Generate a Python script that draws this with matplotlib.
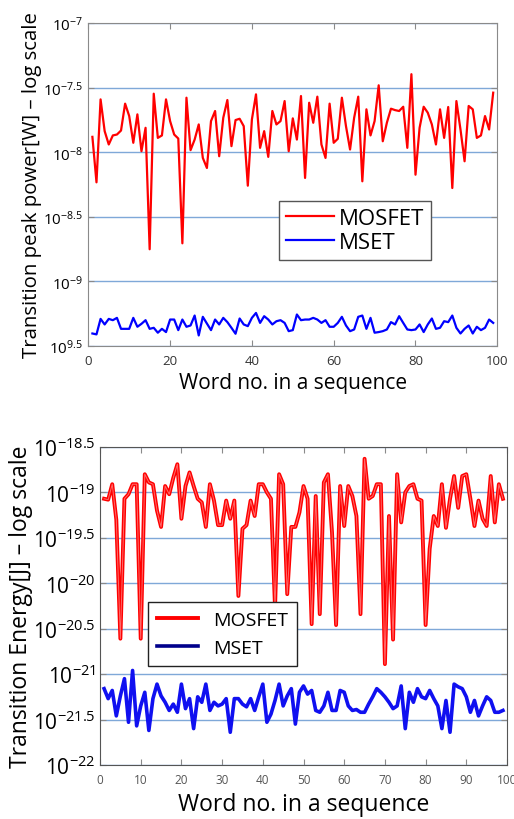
import numpy as np
import matplotlib
matplotlib.use("Agg")
import matplotlib.pyplot as plt

plt.rcParams['font.family'] = ['Open Sans', 'DejaVu Sans']
plt.rcParams['mathtext.fontset'] = 'custom'
plt.rcParams['mathtext.rm'] = 'Open Sans'
plt.rcParams['mathtext.it'] = 'Open Sans:italic'
plt.rcParams['mathtext.bf'] = 'Open Sans:bold'

# ---------------- data (log10 exponents) ----------------
word_no = list(range(1, 100))

power_mosfet_exp = [
    -7.881, -8.233, -7.591, -7.837, -7.940, -7.870, -7.863, -7.832, -7.624, -7.720,
    -7.927, -7.707, -7.992, -7.811, -8.751, -7.547, -7.889, -7.870, -7.591, -7.759,
    -7.863, -7.894, -8.705, -7.578, -7.984, -7.902, -7.785, -8.044, -8.122, -7.759,
    -7.681, -8.031, -7.733, -7.596, -7.953, -7.751, -7.741, -7.798, -8.259, -7.746,
    -7.552, -7.966, -7.837, -8.036, -7.681, -7.785, -7.759, -7.604, -7.992, -7.738,
    -7.902, -7.565, -8.199, -7.617, -7.772, -7.570, -7.940, -8.044, -7.624, -7.927,
    -7.896, -7.578, -7.798, -7.979, -7.733, -7.570, -8.225, -7.668, -7.870, -7.759,
    -7.482, -7.915, -7.772, -7.663, -7.674, -7.681, -7.648, -7.966, -7.396, -8.174,
    -7.811, -7.648, -7.694, -7.785, -7.940, -7.668, -7.889, -7.650, -8.277, -7.604,
    -7.824, -8.070, -7.642, -7.668, -7.889, -7.870, -7.720, -7.824, -7.539,
]

power_mset_exp = [
    -9.403, -9.410, -9.290, -9.333, -9.290, -9.300, -9.282, -9.367, -9.367, -9.367,
    -9.282, -9.351, -9.328, -9.300, -9.367, -9.359, -9.397, -9.367, -9.392, -9.295,
    -9.295, -9.377, -9.295, -9.351, -9.341, -9.264, -9.418, -9.274, -9.326, -9.377,
    -9.295, -9.333, -9.282, -9.315, -9.359, -9.405, -9.287, -9.333, -9.346, -9.282,
    -9.244, -9.321, -9.269, -9.295, -9.333, -9.308, -9.300, -9.321, -9.385, -9.377,
    -9.256, -9.300, -9.295, -9.295, -9.282, -9.295, -9.321, -9.300, -9.351, -9.351,
    -9.321, -9.274, -9.341, -9.385, -9.372, -9.274, -9.264, -9.367, -9.282, -9.397,
    -9.392, -9.385, -9.372, -9.315, -9.333, -9.269, -9.321, -9.372, -9.377, -9.372,
    -9.333, -9.392, -9.333, -9.287, -9.367, -9.359, -9.308, -9.315, -9.264, -9.359,
    -9.403, -9.367, -9.341, -9.403, -9.351, -9.377, -9.359, -9.295, -9.321,
]

energy_mosfet_exp = [
    -19.07, -19.08, -18.91, -19.30, -20.61, -19.07, -19.02, -18.91, -18.91, -20.61,
    -18.80, -18.89, -18.91, -19.20, -19.38, -18.93, -19.02, -18.84, -18.69, -19.29,
    -18.93, -18.78, -18.93, -19.07, -19.11, -19.38, -18.91, -19.09, -19.36, -19.36,
    -19.09, -19.29, -19.09, -20.14, -19.40, -19.36, -19.09, -19.26, -18.91, -18.91,
    -19.00, -19.07, -20.27, -18.80, -18.91, -20.12, -19.38, -19.38, -19.22, -18.93,
    -19.07, -20.45, -19.04, -20.34, -18.89, -18.80, -19.44, -20.46, -18.93, -19.37,
    -18.93, -19.04, -19.26, -20.34, -18.63, -19.07, -19.04, -18.91, -18.91, -20.89,
    -19.26, -20.62, -18.80, -19.33, -19.00, -18.93, -18.91, -19.07, -19.09, -20.46,
    -19.62, -19.26, -19.37, -18.91, -19.39, -19.07, -18.82, -19.17, -18.82, -18.80,
    -19.07, -19.37, -19.09, -19.29, -19.37, -18.82, -19.33, -18.91, -19.07,
]

energy_mset_exp = [
    -21.16, -21.27, -21.18, -21.46, -21.24, -21.05, -21.53, -20.96, -21.57, -21.35,
    -21.20, -21.62, -21.27, -21.11, -21.24, -21.31, -21.40, -21.33, -21.42, -21.11,
    -21.38, -21.27, -21.60, -21.25, -21.31, -21.11, -21.40, -21.31, -21.35, -21.33,
    -21.27, -21.64, -21.27, -21.27, -21.33, -21.36, -21.27, -21.40, -21.25, -21.11,
    -21.53, -21.44, -21.29, -21.11, -21.35, -21.24, -21.16, -21.55, -21.20, -21.13,
    -21.22, -21.18, -21.40, -21.42, -21.35, -21.20, -21.40, -21.40, -21.18, -21.20,
    -21.35, -21.40, -21.39, -21.42, -21.42, -21.33, -21.25, -21.16, -21.20, -21.25,
    -21.31, -21.38, -21.35, -21.13, -21.60, -21.20, -21.31, -21.16, -21.25, -21.27,
    -21.18, -21.27, -21.35, -21.60, -21.29, -21.64, -21.11, -21.14, -21.16, -21.25,
    -21.42, -21.29, -21.46, -21.35, -21.25, -21.29, -21.42, -21.42, -21.40,
]

top_yticks_exp = [-9.5, -9, -8.5, -8, -7.5, -7]
top_yticklabels = ['$10^{9.5}$', '$10^{-9}$', '$10^{-8.5}$', '$10^{-8}$', '$10^{-7.5}$', '$10^{-7}$']
top_xticks = [0, 20, 40, 60, 80, 100]

bot_yticks_exp = [-22, -21.5, -21, -20.5, -20, -19.5, -19, -18.5]
bot_yticklabels = ['$10^{-22}$', '$10^{-21.5}$', '$10^{-21}$', '$10^{-20.5}$',
                   '$10^{-20}$', '$10^{-19.5}$', '$10^{-19}$', '$10^{-18.5}$']
bot_xticks = [0, 10, 20, 30, 40, 50, 60, 70, 80, 90, 100]

series_labels = ['MOSFET', 'MSET']

# ---------------- figure ----------------
fig = plt.figure(figsize=(5.14, 8.2), dpi=100)
grid_c = '#7fa8d8'
spine_c = '#8a8a8a'

# ---- top panel ----
ax1 = fig.add_axes([0.1718, 0.5768, 0.7957, 0.3939])
ax1.plot(word_no, 10.0 ** np.array(power_mosfet_exp), color='#ff0000', lw=1.6, label=series_labels[0])
ax1.plot(word_no, 10.0 ** np.array(power_mset_exp), color='#0000ff', lw=1.6, label=series_labels[1])
ax1.set_yscale('log')
ax1.set_ylim(10 ** -9.5, 10 ** -7)
ax1.set_xlim(0, 100)
ax1.set_yticks([10.0 ** e for e in top_yticks_exp])
ax1.set_yticklabels(top_yticklabels, fontsize=11)
ax1.yaxis.set_minor_locator(matplotlib.ticker.NullLocator())
ax1.set_xticks(top_xticks)
ax1.set_xticklabels([str(t) for t in top_xticks], fontsize=9.5, color='#333333')
ax1.grid(axis='y', color=grid_c, lw=1.0)
ax1.set_axisbelow(True)
ax1.tick_params(direction='in', top=True, right=True, length=4, color=spine_c)
ax1.tick_params(axis='x', pad=6)
for s in ax1.spines.values():
    s.set_color(spine_c)
ax1.set_xlabel('Word no. in a sequence', fontsize=15, labelpad=3)
ax1.set_ylabel('Transition peak power[W] \u2013 log scale', fontsize=14.7, labelpad=1)
leg1 = ax1.legend(loc='upper left', bbox_to_anchor=(0.466, 0.449), fontsize=16,
                  frameon=True, fancybox=False, edgecolor='#555555', framealpha=1,
                  handlelength=2.2, handletextpad=0.2, borderpad=0.3, labelspacing=0.15,
                  borderaxespad=0)
leg1.get_frame().set_linewidth(1.0)

# ---- bottom panel ----
ax2 = fig.add_axes([0.1946, 0.0659, 0.7918, 0.3878])
ax2.plot(word_no, 10.0 ** np.array(energy_mosfet_exp), color='#ff0000', lw=2.8, label=series_labels[0])
ax2.plot(word_no, 10.0 ** np.array(energy_mosfet_exp), color='#ff6a6a', lw=0.7)
ax2.plot(word_no, 10.0 ** np.array(energy_mset_exp), color='#1010f0', lw=2.6, label=series_labels[1])
ax2.set_yscale('log')
ax2.set_ylim(10 ** -22, 10 ** -18.5)
ax2.set_xlim(0, 100)
ax2.set_yticks([10.0 ** e for e in bot_yticks_exp])
ax2.set_yticklabels(bot_yticklabels, fontsize=15)
ax2.yaxis.set_minor_locator(matplotlib.ticker.NullLocator())
ax2.set_xticks(bot_xticks)
ax2.set_xticklabels([str(t) for t in bot_xticks], fontsize=8.5, color='#555555')
ax2.grid(axis='y', color=grid_c, lw=1.0)
ax2.set_axisbelow(True)
ax2.tick_params(direction='in', top=True, right=True, length=4, color=spine_c)
ax2.tick_params(axis='x', pad=6)
ax2.tick_params(axis='y', pad=3)
for s in ax2.spines.values():
    s.set_color('#555555')
ax2.set_xlabel('Word no. in a sequence', fontsize=16.5, labelpad=4)
ax2.set_ylabel('Transition Energy[J] \u2013 log scale', fontsize=16.5, labelpad=0)
leg2 = ax2.legend(loc='upper left', bbox_to_anchor=(0.118, 0.513), fontsize=14,
                  frameon=True, fancybox=False, edgecolor='#222222', framealpha=1,
                  handlelength=2.1, handletextpad=0.8, borderpad=0.45, labelspacing=0.55,
                  borderaxespad=0)
leg2.get_frame().set_linewidth(1.0)
leg2.get_lines()[1].set_color('#00008b')

fig.savefig('out.png', dpi=100)
